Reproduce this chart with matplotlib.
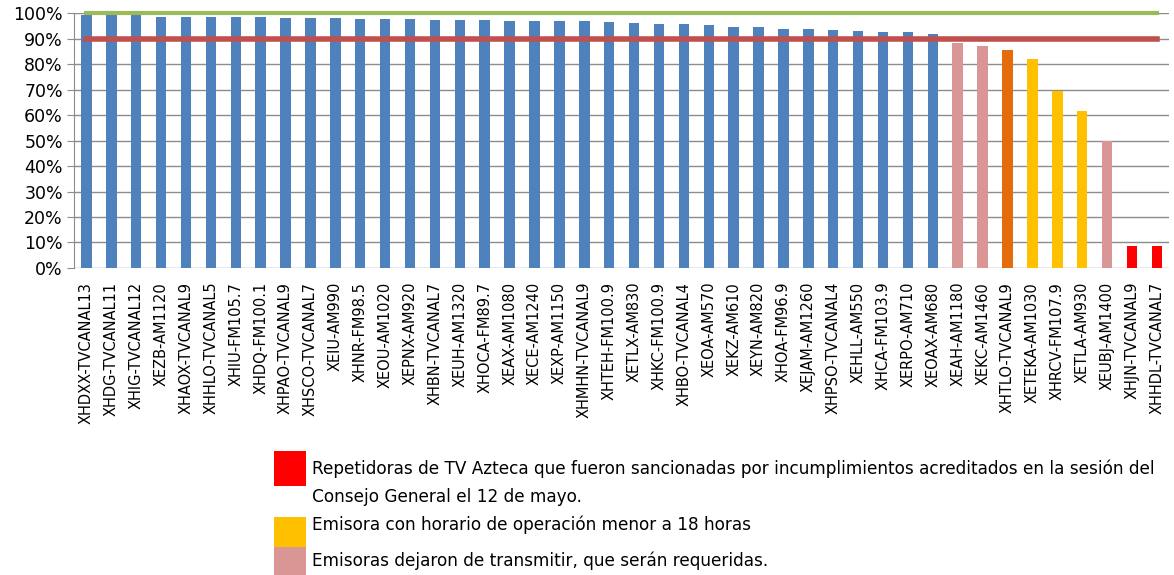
import matplotlib.pyplot as plt
from matplotlib.patches import Rectangle
from matplotlib.ticker import PercentFormatter

# DATA
stations = [
    "XHDXX-TVCANAL13", "XHDG-TVCANAL11", "XHIG-TVCANAL12", "XEZB-AM1120",
    "XHAOX-TVCANAL9", "XHHLO-TVCANAL5", "XHIU-FM105.7", "XHDQ-FM100.1",
    "XHPAO-TVCANAL9", "XHSCO-TVCANAL7", "XEIU-AM990", "XHNR-FM98.5",
    "XEOU-AM1020", "XEPNX-AM920", "XHBN-TVCANAL7", "XEUH-AM1320",
    "XHOCA-FM89.7", "XEAX-AM1080", "XECE-AM1240", "XEXP-AM1150",
    "XHMHN-TVCANAL9", "XHTEH-FM100.9", "XETLX-AM830", "XHKC-FM100.9",
    "XHBO-TVCANAL4", "XEOA-AM570", "XEKZ-AM610", "XEYN-AM820",
    "XHOA-FM96.9", "XEJAM-AM1260", "XHPSO-TVCANAL4", "XEHLL-AM550",
    "XHCA-FM103.9", "XERPO-AM710", "XEOAX-AM680", "XEAH-AM1180",
    "XEKC-AM1460", "XHTLO-TVCANAL9", "XETEKA-AM1030", "XHRCV-FM107.9",
    "XETLA-AM930", "XEUBJ-AM1400", "XHJN-TVCANAL9", "XHHDL-TVCANAL7",
]
compliance = [
    99.2, 99.2, 99.2, 98.5, 98.5, 98.5, 98.4, 98.4, 98.2, 98.1,
    98.0, 97.7, 97.7, 97.6, 97.4, 97.2, 97.2, 97.0, 96.9, 96.9,
    96.8, 96.5, 96.3, 95.7, 95.7, 95.5, 94.7, 94.5, 94.0, 93.8,
    93.4, 93.0, 92.6, 92.6, 92.0, 88.4, 87.0, 85.7, 82.2, 69.6,
    61.7, 49.7, 8.6, 8.6,
]
# category of each bar: n normal, p stopped, o orange, y <18h, r sanctioned
status = ["n"] * 35 + ["p", "p", "o", "y", "y", "y", "p", "r", "r"]
target = 100
threshold = 90

legend_items = [
    ("r", "Repetidoras de TV Azteca que fueron sancionadas por incumplimientos acreditados en la sesión del\nConsejo General el 12 de mayo."),
    ("y", "Emisora con horario de operación menor a 18 horas"),
    ("p", "Emisoras dejaron de transmitir, que serán requeridas."),
]

colors = {"n": "#4F81BD", "p": "#D99694", "o": "#E46C0A",
          "y": "#FFC000", "r": "#FF0000"}

fig = plt.figure(figsize=(11.74, 5.75), dpi=100)
ax = fig.add_axes([0.063, 0.534, 0.933, 0.443])

x = list(range(len(stations)))
ax.bar(x, compliance, width=0.42, color=[colors[s] for s in status], zorder=2)
ax.plot(x, [target] * len(x), color="#9BBB59", linewidth=3, zorder=3,
        clip_on=False)
ax.plot(x, [threshold] * len(x), color="#C0504D", linewidth=4, zorder=3)

ax.set_xlim(-0.5, len(x) - 0.5)
ax.set_ylim(0, 100)
ax.set_yticks(range(0, 101, 10))
ax.yaxis.set_major_formatter(PercentFormatter(decimals=0))
ax.grid(axis="y", color="#8C8C8C", linewidth=1, zorder=0)
ax.set_xticks(x)
ax.set_xticklabels(stations, rotation=90, fontsize=10.5)
ax.tick_params(axis="x", length=0, pad=10)
ax.tick_params(axis="y", labelsize=12.5, length=5, color="#8C8C8C", pad=3)
for side in ["top", "right", "bottom"]:
    ax.spines[side].set_visible(False)
ax.spines["left"].set_color("#8C8C8C")

# legend drawn as coloured boxes with text underneath the chart
box_x, box_w = 274 / 1174, 32 / 1174
tops = [451, 517, 547]
heights = [35, 30, 30]
text_y = [483, 525, 561]
for (key, label), top, h, ty in zip(legend_items, tops, heights, text_y):
    fig.patches.append(Rectangle((box_x, 1 - (top + h) / 575), box_w, h / 575,
                                 transform=fig.transFigure,
                                 facecolor=colors[key], edgecolor="none"))
    fig.text(312 / 1174, 1 - ty / 575, label, fontsize=12.2, va="center",
             ha="left", linespacing=1.75)

fig.savefig("out.png", dpi=100)
